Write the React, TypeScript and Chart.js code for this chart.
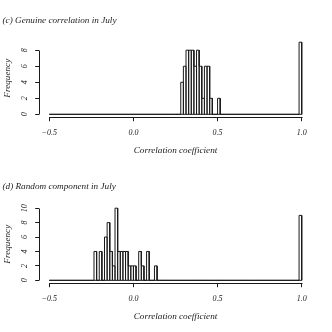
import React, { useEffect, useRef } from 'react';
import { Chart, registerables } from 'chart.js';

Chart.register(...registerables);

// Histogram breaks: from -0.5 to 1.0, bin width 1/64 (96 bins)
const BIN_START = -0.5;
const BIN_WIDTH = 1 / 64;

// (c) Genuine correlation in July — counts per bin
const genuineCounts = [
  0, 0, 0, 0, 0, 0, 0, 0, 0, 0, 0, 0, 0, 0, 0, 0,
  0, 0, 0, 0, 0, 0, 0, 0, 0, 0, 0, 0, 0, 0, 0, 0,
  0, 0, 0, 0, 0, 0, 0, 0, 0, 0, 0, 0, 0, 0, 0, 0,
  0, 0, 4, 6, 8, 8, 8, 6, 8, 6, 2, 6, 6, 2, 0, 0,
  2, 0, 0, 0, 0, 0, 0, 0, 0, 0, 0, 0, 0, 0, 0, 0,
  0, 0, 0, 0, 0, 0, 0, 0, 0, 0, 0, 0, 0, 0, 0, 9,
];

// (d) Random component in July — counts per bin
const randomCounts = [
  0, 0, 0, 0, 0, 0, 0, 0, 0, 0, 0, 0, 0, 0, 0, 0,
  0, 4, 0, 4, 0, 6, 8, 4, 2, 10, 4, 4, 4, 4, 2, 2,
  2, 0, 4, 2, 0, 4, 0, 0, 2, 0, 0, 0, 0, 0, 0, 0,
  0, 0, 0, 0, 0, 0, 0, 0, 0, 0, 0, 0, 0, 0, 0, 0,
  0, 0, 0, 0, 0, 0, 0, 0, 0, 0, 0, 0, 0, 0, 0, 0,
  0, 0, 0, 0, 0, 0, 0, 0, 0, 0, 0, 0, 0, 0, 0, 9,
];

const xTicks = [-0.5, 0, 0.5, 1.0];
const xTickLabels = ['\u22120.5', '0.0', '0.5', '1.0'];
const yTicksGenuine = [0, 2, 4, 6, 8];
const yTicksRandom = [0, 2, 4, 6, 8, 10];
const titleGenuine = '(c) Genuine correlation in July';
const titleRandom = '(d) Random component in July';
const xTitle = 'Correlation coefficient';
const yTitle = 'Frequency';

const FONT = "'Liberation Serif', 'Times New Roman', 'DejaVu Serif', serif";
const INK = '#1a1a1a';

const rAxisLines = {
  id: 'rAxisLines',
  afterDraw(chart: any) {
    const { ctx, chartArea } = chart;
    const x = chart.scales.x;
    const y = chart.scales.y;
    const al = (v: number) => Math.round(v) + 0.5;
    ctx.save();
    ctx.strokeStyle = INK;
    ctx.lineWidth = 1;
    const xs = x.ticks.map((t: any) => x.getPixelForValue(t.value));
    ctx.beginPath();
    ctx.moveTo(al(Math.min(...xs)), al(chartArea.bottom));
    ctx.lineTo(al(Math.max(...xs)), al(chartArea.bottom));
    ctx.stroke();
    const ys = y.ticks.map((t: any) => y.getPixelForValue(t.value));
    ctx.beginPath();
    ctx.moveTo(al(chartArea.left), al(Math.min(...ys)));
    ctx.lineTo(al(chartArea.left), al(Math.max(...ys)));
    ctx.stroke();
    ctx.restore();
  },
};

function outlinePoints(counts: number[]) {
  const pts: { x: number; y: number }[] = [];
  counts.forEach((c, i) => {
    const e0 = BIN_START + i * BIN_WIDTH;
    const e1 = e0 + BIN_WIDTH;
    pts.push({ x: e0, y: 0 }, { x: e0, y: c }, { x: e1, y: c }, { x: e1, y: 0 });
  });
  return pts;
}

function HistPanel(props: { title: string; counts: number[]; yTicks: number[]; tickPad: number }) {
  const ref = useRef<HTMLCanvasElement | null>(null);
  useEffect(() => {
    if (!ref.current) return;
    const { counts, yTicks, title, tickPad } = props;
    const yMax = Math.max(...counts);
    const xMin = xTicks[0];
    const xMax = xTicks[xTicks.length - 1];
    const xr = xMax - xMin;
    const lastEdge = BIN_START + counts.length * BIN_WIDTH;
    const tickFont = { family: FONT, size: 8, style: 'italic' as const, weight: 'normal' as const, lineHeight: 1 };
    const labFont = { family: FONT, size: 9.2, style: 'italic' as const, weight: 'normal' as const, lineHeight: 1 };
    const chart = new Chart(ref.current, {
      type: 'line',
      data: {
        datasets: [
          {
            data: outlinePoints(counts),
            borderColor: INK,
            borderWidth: 1,
            pointRadius: 0,
            tension: 0,
            fill: false,
          },
          {
            data: [
              { x: BIN_START, y: 0 },
              { x: lastEdge, y: 0 },
            ],
            borderColor: INK,
            borderWidth: 1,
            pointRadius: 0,
            fill: false,
          },
        ],
      },
      options: {
        animation: false,
        responsive: false,
        devicePixelRatio: 1,
        events: [],
        layout: { padding: { left: 2.5, right: 20.2, top: 0, bottom: 0 } },
        plugins: {
          legend: { display: false },
          tooltip: { enabled: false },
          title: {
            display: true,
            text: title,
            align: 'start',
            color: INK,
            font: labFont,
            padding: { top: 15.8, bottom: 14.3 },
          },
        },
        scales: {
          x: {
            type: 'linear',
            min: xMin - 0.04 * xr,
            max: xMax + 0.04 * xr,
            afterBuildTicks: (s: any) => {
              s.ticks = xTicks.map((v) => ({ value: v }));
            },
            afterFit: (s: any) => {
              s.height = 48.8;
            },
            ticks: {
              color: INK,
              font: tickFont,
              padding: 7.9,
              maxRotation: 0,
              minRotation: 0,
              callback: (_v: any, i: number) => xTickLabels[i],
            },
            grid: { display: true, drawOnChartArea: false, drawTicks: true, tickLength: 4, color: INK, lineWidth: 1 },
            border: { display: false },
            title: { display: true, text: xTitle, color: INK, font: labFont, padding: { top: 0, bottom: 10.9 } },
          },
          y: {
            type: 'linear',
            min: -0.04 * yMax,
            max: 1.04 * yMax,
            afterBuildTicks: (s: any) => {
              s.ticks = yTicks.map((v) => ({ value: v }));
            },
            afterFit: (s: any) => {
              s.width = 36.7;
            },
            ticks: {
              color: INK,
              font: tickFont,
              padding: tickPad,
              minRotation: 90,
              maxRotation: 90,
              crossAlign: 'center',
              callback: (v: any) => String(v),
            },
            grid: { display: true, drawOnChartArea: false, drawTicks: true, tickLength: 4, color: INK, lineWidth: 1 },
            border: { display: false },
            title: { display: true, text: yTitle, color: INK, font: labFont, padding: { top: 0, bottom: 0 } },
          },
        },
      },
      plugins: [rAxisLines],
    } as any);
    return () => chart.destroy();
  }, []);
  return <canvas ref={ref} width={332} height={166} style={{ display: 'block', width: 332, height: 166 }} />;
}

export default function App() {
  return (
    <div style={{ position: 'fixed', left: 0, top: 0, width: 332, height: 332, background: '#fff' }}>
      <HistPanel title={titleGenuine} counts={genuineCounts} yTicks={yTicksGenuine} tickPad={8.5} />
      <HistPanel title={titleRandom} counts={randomCounts} yTicks={yTicksRandom} tickPad={6.5} />
    </div>
  );
}
